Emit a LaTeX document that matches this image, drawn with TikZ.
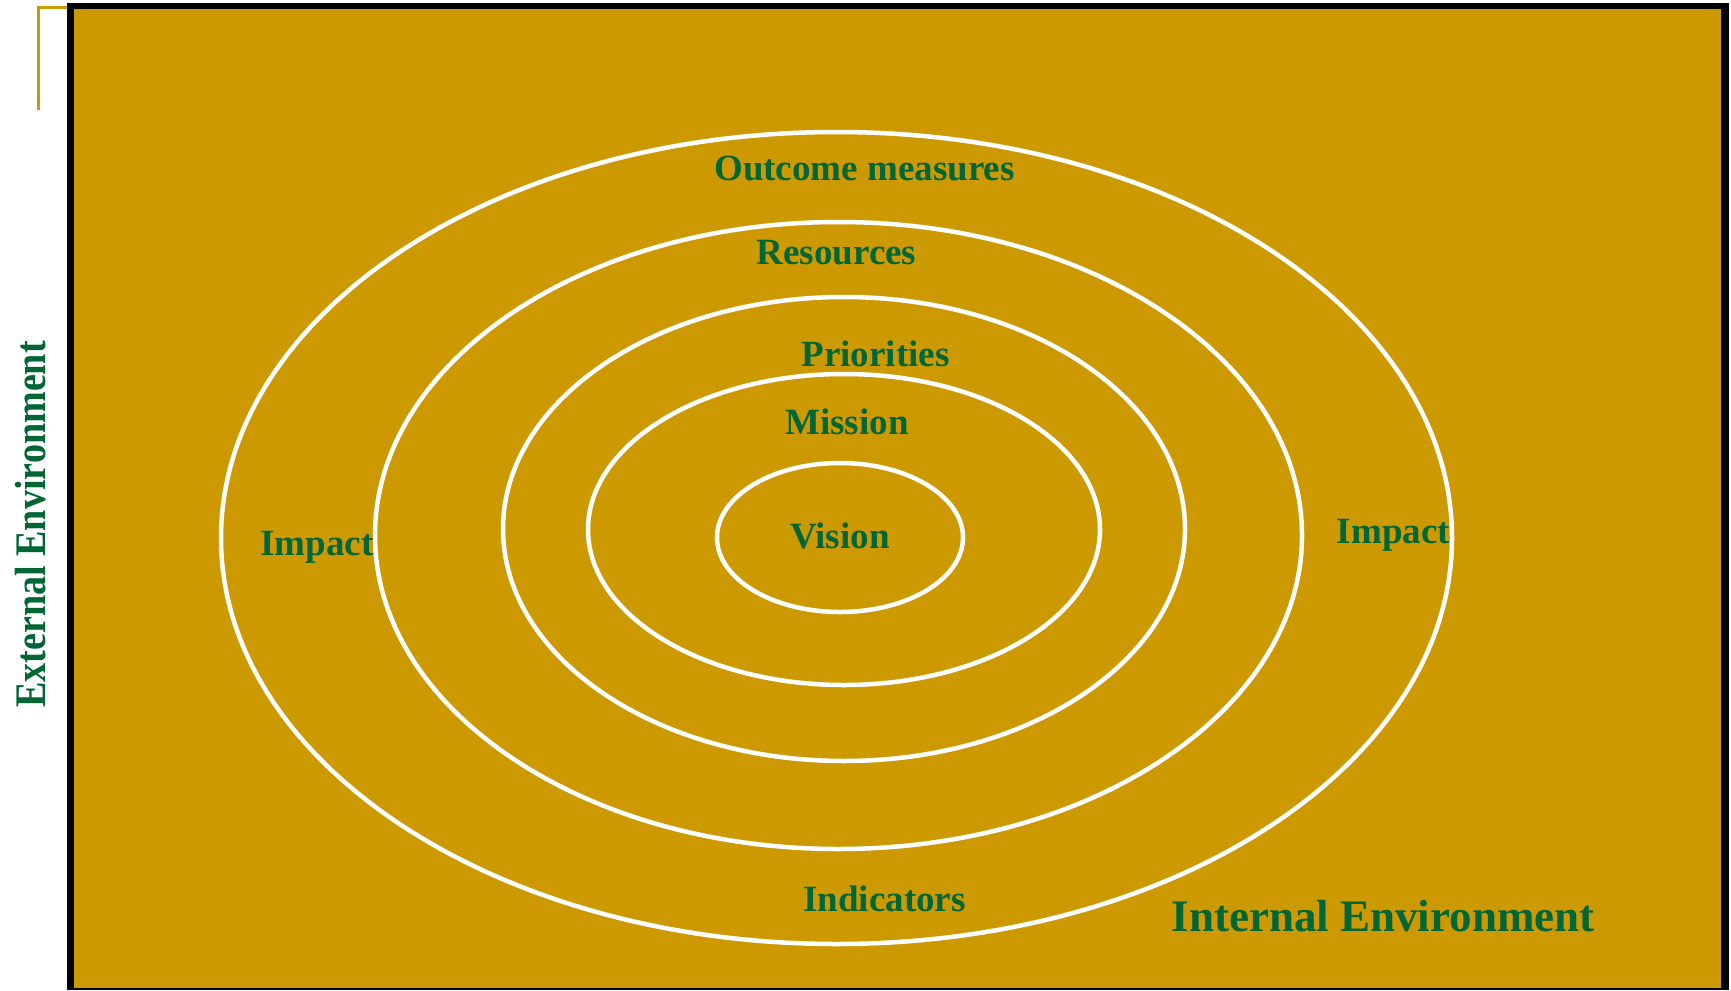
\documentclass[tikz,border=0pt]{standalone}
\usepackage{fontspec}
\setmainfont{Liberation Serif}
\definecolor{gold}{HTML}{CC9900}
\definecolor{lbl}{HTML}{006633}
\begin{document}
\begin{tikzpicture}[x=1pt,y=-1pt,
  ring/.style={draw=white,line width=4.5pt},
  lab/.style={text=lbl,font=\fontsize{37}{40}\selectfont\bfseries,anchor=base,inner sep=0pt},
  biglab/.style={text=lbl,font=\fontsize{45}{48}\selectfont\bfseries,anchor=base,inner sep=0pt}]
\useasboundingbox (0,0) rectangle (1731,990);
\fill[white] (0,0) rectangle (1731,990);
% frame
\fill[black] (67,3) rectangle (1729,990);
\fill[gold] (74,9) rectangle (1721,988);
% small gold bracket top-left
\draw[gold,line width=3pt] (38.5,110) -- (38.5,7.5) -- (67,7.5);
% rings
\draw[ring] (836.5,538) ellipse [x radius=615.5pt, y radius=406pt];
\draw[ring] (838.5,535.5) ellipse [x radius=463.5pt, y radius=313.5pt];
\draw[ring] (844,529) ellipse [x radius=341pt, y radius=232pt];
\draw[ring] (844,529.5) ellipse [x radius=256pt, y radius=155.5pt];
\draw[ring] (840,537.5) ellipse [x radius=123pt, y radius=74.5pt];
% labels
\node[lab] (outcome) at (864.5,180) {Outcome measures};
\node[lab] (resources) at (836.5,264) {Resources};
\node[lab] (priorities) at (875.5,366) {Priorities};
\node[lab] (mission) at (847,434) {Mission};
\node[lab] (vision) at (840,548) {Vision};
\node[lab] (impactL) at (317,555) {Impact};
\node[lab] (impactR) at (1393.5,543) {Impact};
\node[lab] (indicators) at (884.5,911) {Indicators};
\node[biglab] (internal) at (1383,931) {Internal Environment};
\node[lab,rotate=90] (external) at (45,524.5) {\scalebox{1.03}[1.18]{External Environment}};
\end{tikzpicture}
\end{document}
